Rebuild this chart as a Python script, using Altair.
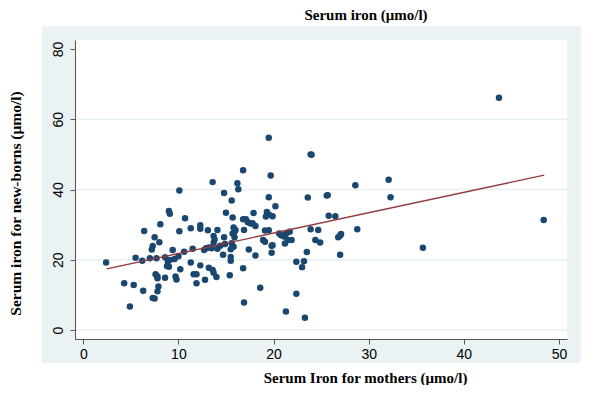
import altair as alt
import pandas as pd

mother_iron = [43.7, 19.5, 23.9, 24.0, 16.8, 19.7, 32.1, 13.6, 16.2, 28.6,
               16.3, 10.1, 14.8, 25.7, 25.6, 32.3, 23.6, 19.5, 15.6, 20.2,
               9.0, 9.1, 15.0, 17.9, 19.3, 19.5, 19.9, 19.2, 25.8, 26.5,
               10.7, 15.7, 16.8, 17.1, 17.3, 17.6, 17.8, 18.1, 8.1, 12.3,
               12.3, 11.3, 28.8, 6.4, 10.1, 13.1, 14.1, 15.8, 16.0, 15.9,
               15.7, 16.9, 19.1, 19.5, 20.6, 20.8, 21.1, 21.3, 21.7, 23.9,
               24.7, 21.9, 21.5, 21.2, 24.4, 24.9, 26.8, 27.1, 13.7, 13.8,
               13.7, 14.8, 14.9, 15.9, 15.6, 15.8, 15.5, 18.9, 19.1, 19.8,
               19.9, 7.5, 8.0, 7.3, 7.2, 9.4, 10.6, 11.5, 12.7, 12.9,
               13.2, 13.5, 14.1, 14.4, 17.4, 19.8, 23.5, 27.0, 5.5, 6.2,
               2.4, 7.0, 7.7, 8.6, 9.1, 9.6, 10.0, 8.9, 8.8, 9.0,
               11.3, 12.3, 10.2, 15.5, 15.5, 18.1, 14.7, 13.2, 13.6, 13.7,
               14.0, 11.6, 11.9, 11.9, 12.8, 15.4, 16.8, 22.4, 23.2, 23.0,
               7.6, 7.8, 7.8, 8.6, 9.7, 9.8, 4.3, 5.3, 6.3, 7.9,
               7.8, 7.3, 7.5, 4.9, 18.6, 22.4, 16.9, 21.3, 23.3, 35.7,
               48.4, 27.0]
newborn_iron = [66.1, 54.7, 50.0, 49.9, 45.5, 44.0, 42.8, 42.1, 41.8, 41.2,
                40.1, 39.7, 39.0, 38.4, 38.3, 37.8, 37.7, 37.8, 36.9, 35.2,
                33.9, 33.1, 33.4, 33.3, 33.6, 32.9, 32.4, 32.3, 32.5, 32.4,
                31.8, 32.0, 31.5, 31.5, 30.7, 30.3, 30.4, 29.6, 30.1, 29.8,
                28.8, 29.0, 28.7, 28.2, 28.1, 28.4, 28.5, 29.2, 28.5, 28.0,
                27.5, 28.5, 28.3, 28.4, 27.5, 27.0, 26.6, 27.3, 28.0, 28.7,
                28.5, 25.6, 25.6, 24.6, 25.6, 24.9, 26.4, 27.3, 26.8, 25.8,
                24.8, 26.4, 24.5, 26.4, 24.7, 23.7, 23.0, 25.6, 25.1, 24.0,
                24.1, 26.4, 25.0, 23.9, 22.9, 22.8, 22.3, 23.1, 22.8, 23.3,
                23.5, 23.3, 23.1, 24.0, 22.9, 22.0, 22.2, 21.4, 20.6, 19.7,
                19.2, 20.4, 20.4, 20.7, 19.9, 20.2, 21.0, 19.6, 18.2, 18.0,
                19.2, 18.4, 17.3, 20.8, 19.7, 21.2, 21.4, 17.7, 17.1, 16.3,
                15.1, 15.9, 15.9, 13.3, 14.3, 15.6, 17.6, 19.4, 19.6, 17.9,
                15.9, 15.2, 14.7, 14.9, 15.2, 14.4, 13.3, 12.8, 11.2, 12.4,
                11.0, 9.1, 9.0, 6.7, 12.0, 10.3, 7.8, 5.3, 3.5, 23.4,
                31.3, 26.9]

fit_x = [2.46, 48.46]
fit_y = [17.4, 44.1]

grid_y = [0, 20, 40, 60]
x_ticks = [0, 10, 20, 30, 40, 50]
y_ticks = [0, 20, 40, 60, 80]

W, H = 492, 299
X_DOM = [-0.87, 50.85]
Y_DOM = [-2.56, 82.56]

pts = pd.DataFrame({"m": mother_iron, "n": newborn_iron})
fit = pd.DataFrame({"m": fit_x, "n": fit_y})
grid = pd.DataFrame({"n": grid_y})

xs = alt.Scale(domain=X_DOM, nice=False, zero=False)
ys = alt.Scale(domain=Y_DOM, nice=False, zero=False)

xaxis = alt.Axis(values=x_ticks, grid=False, title="Serum Iron for mothers (μmo/l)",
                 labelFont="Liberation Sans", labelFontSize=14, labelColor="black",
                 labelPadding=3, tickSize=5, tickColor="#555555", domainColor="#555555",
                 titleFont="Liberation Serif", titleFontSize=15, titleFontWeight="bold",
                 titleColor="black", titleX=290, titleY=43, titleBaseline="alphabetic",
                 titleAlign="center", zindex=1)
yaxis = alt.Axis(values=y_ticks, grid=False, title="Serum iron for new-borns (μmo/l)",
                 labelFont="Liberation Sans", labelFontSize=14, labelColor="black",
                 labelAngle=270, labelAlign="center", labelBaseline="bottom",
                 labelPadding=5, tickSize=5, tickColor="#555555", domainColor="#555555",
                 titleFont="Liberation Serif", titleFontSize=15.5, titleFontWeight="bold",
                 titleColor="black", titleX=-60, titleY=163, titleBaseline="middle",
                 titleAlign="center", zindex=1)

panel = alt.Chart(alt.Data(values=[{}])).mark_rect(color="#EAF2F3").encode(
    x=alt.value(-33), x2=alt.value(506), y=alt.value(-14), y2=alt.value(323)
)
plotbg = alt.Chart(alt.Data(values=[{}])).mark_rect(color="white").encode(
    x=alt.value(0), x2=alt.value(W), y=alt.value(0), y2=alt.value(H)
)
grid_l = alt.Chart(grid).mark_rule(color="#E6EFF1", strokeWidth=1.5).encode(
    y=alt.Y("n:Q", scale=ys, axis=yaxis)
)

points = alt.Chart(pts).mark_circle(color="#1A476F", opacity=1, size=42).encode(
    x=alt.X("m:Q", scale=xs, axis=xaxis),
    y=alt.Y("n:Q", scale=ys, axis=yaxis),
)
line = alt.Chart(fit).mark_line(color="#943A3F", strokeWidth=1.4).encode(
    x=alt.X("m:Q", scale=xs, axis=xaxis),
    y=alt.Y("n:Q", scale=ys, axis=yaxis),
)

chart = alt.layer(panel, plotbg, grid_l, points, line).properties(
    width=W, height=H,
    title=alt.TitleParams("Serum iron (μmo/l)", font="Liberation Serif", fontSize=15,
                          fontWeight="bold", color="black", dx=45, dy=1, anchor="middle"),
    autosize=alt.AutoSizeParams(type="none"),
    padding={"left": 67, "top": 32, "right": 20, "bottom": 46},
    background="white",
).configure_view(stroke=None, fill=None)

chart.save("out.html", embed_options={"renderer": "svg", "actions": False})
